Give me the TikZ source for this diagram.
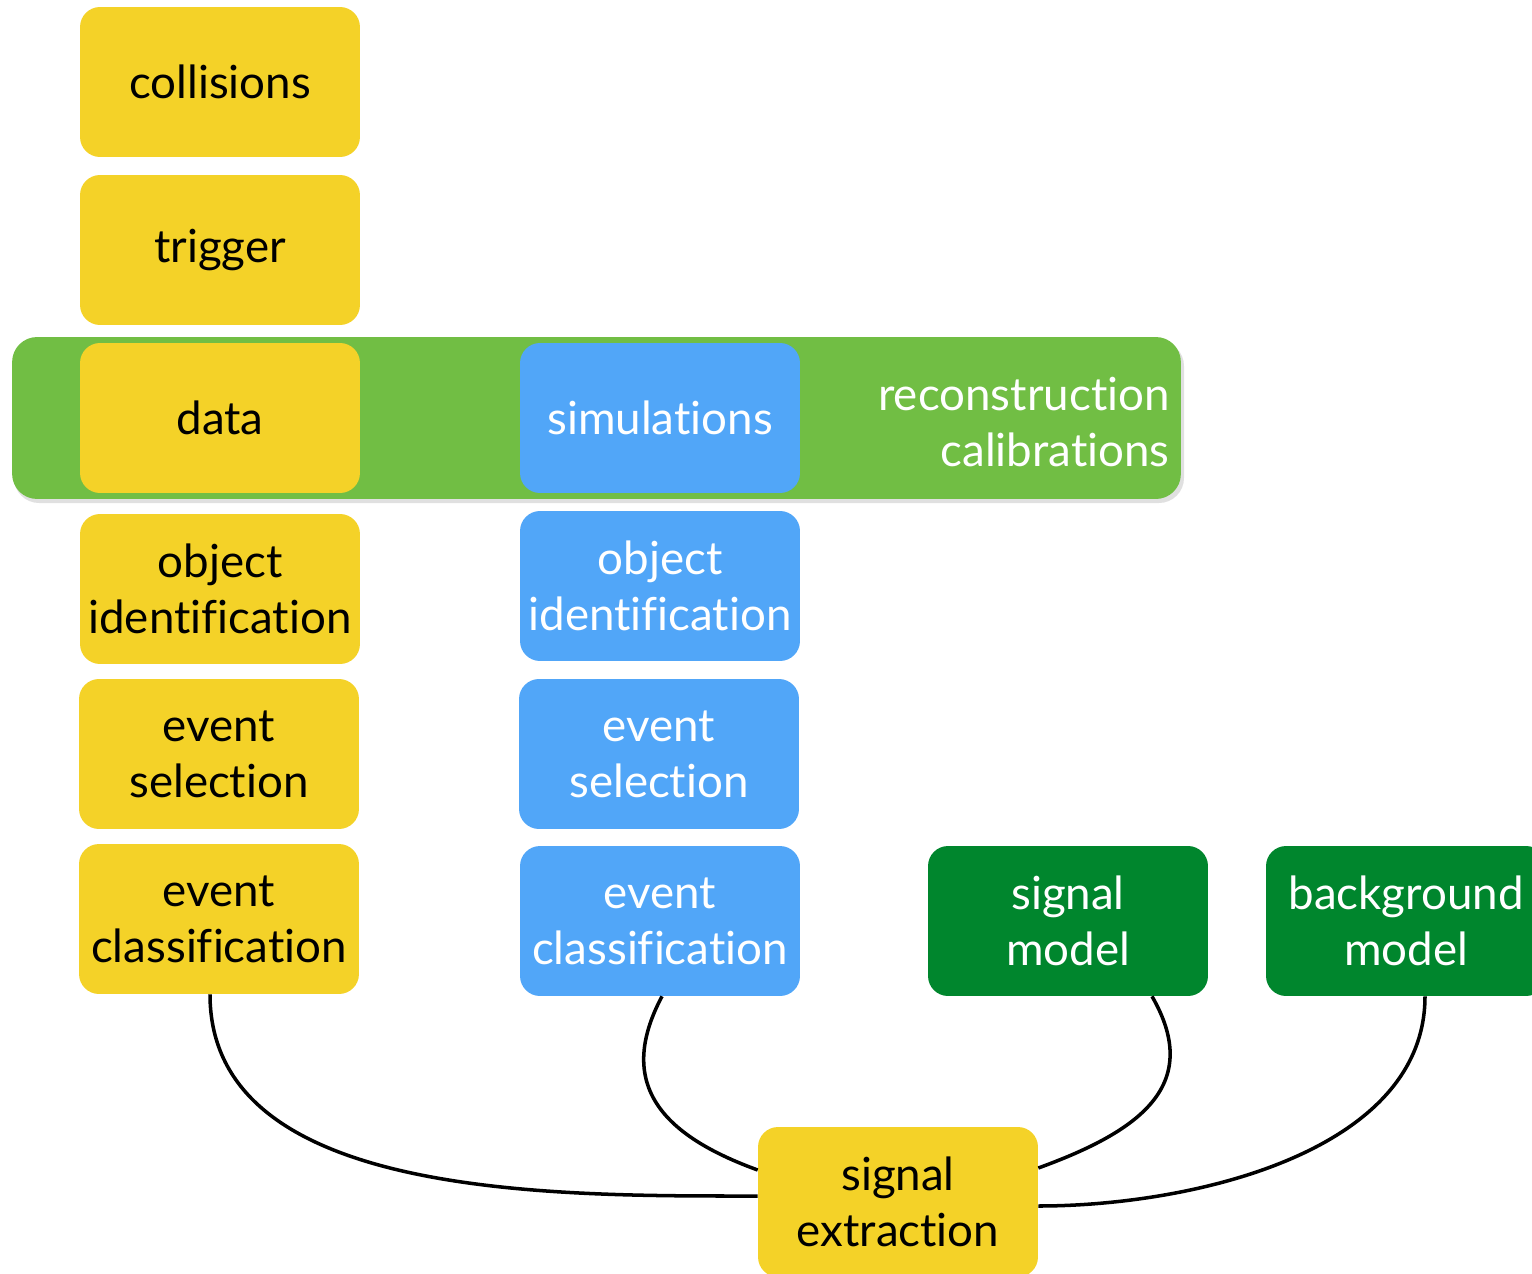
\documentclass[tikz,border=0pt]{standalone}
\usepackage{fontspec}
\setmainfont{Lato}[Ligatures=NoCommon]
\usetikzlibrary{positioning,calc}
\definecolor{flowYellow}{RGB}{244, 210, 40}
\definecolor{flowBlue}{RGB}{81, 166, 248}
\definecolor{flowGreen}{RGB}{113, 190, 68}
\definecolor{flowDarkGreen}{RGB}{0, 134, 45}

\begin{document}
\begin{tikzpicture}[
  x=0.02cm, y=-0.02cm,
  stage/.style={
    rounded corners=0.4cm,
    minimum width=5.6cm,
    minimum height=3cm,
    align=center,
    inner sep=0pt,
    font=\fontsize{26}{32}\selectfont
  },
  datastage/.style={stage,fill=flowYellow,text=black},
  simstage/.style={stage,fill=flowBlue,text=white},
  modelstage/.style={stage,fill=flowDarkGreen,text=white},
  link/.style={line width=2pt,black}
]
  \useasboundingbox (0,0) rectangle (1532,1274);

  % reconstruction band behind data and simulations
  \fill[black!12,rounded corners=0.5cm] (14,341) rectangle (1184,503);
  \node[fill=flowGreen,rounded corners=0.5cm,minimum width=23.38cm,minimum height=3.24cm,
        inner sep=0pt] (band) at (596.5,418) {};

  % data chain
  \node[datastage] (collisions) at (220,82) {collisions};
  \node[datastage] (trigger) at (220,250) {trigger};
  \node[datastage] (data) at (220,418) {data};
  \node[datastage] (dataobj) at (220,589) {object\\identification};
  \node[datastage] (datasel) at (219,754) {event\\selection};
  \node[datastage] (dataclass) at (219,919) {event\\classification};

  % simulation chain
  \node[simstage] (sim) at (660,418) {simulations};
  \node[simstage] (simobj) at (660,586) {object\\identification};
  \node[simstage] (simsel) at (659,754) {event\\selection};
  \node[simstage] (simclass) at (660,921) {event\\classification};

  \node[align=right,text=white,font=\fontsize{26}{32}\selectfont,anchor=east,inner sep=0pt]
    (reco) at (1170,422) {reconstruction\\calibrations};

  % models
  \node[modelstage] (sigmodel) at (1068,921) {signal\\model};
  \node[modelstage] (bkgmodel) at (1406,921) {background\\model};

  \node[datastage] (extract) at (898,1202) {signal\\extraction};

  \draw[link] ($(dataclass.south)+(-9,0)$) to[out=-90,in=180,looseness=0.9]
    ($(extract.west)+(0,-6)$);
  \draw[link] ($(simclass.south)+(2,0)$) to[out=-118,in=160,looseness=1.3]
    ($(extract.west)+(0,-32)$);
  \draw[link] ($(sigmodel.south)+(84,0)$) to[out=-60,in=20,looseness=1.3]
    ($(extract.east)+(0,-34)$);
  \draw[link] ($(bkgmodel.south)+(19,0)$) to[out=-90,in=0,looseness=0.9]
    ($(extract.east)+(0,4)$);
\end{tikzpicture}
\end{document}
